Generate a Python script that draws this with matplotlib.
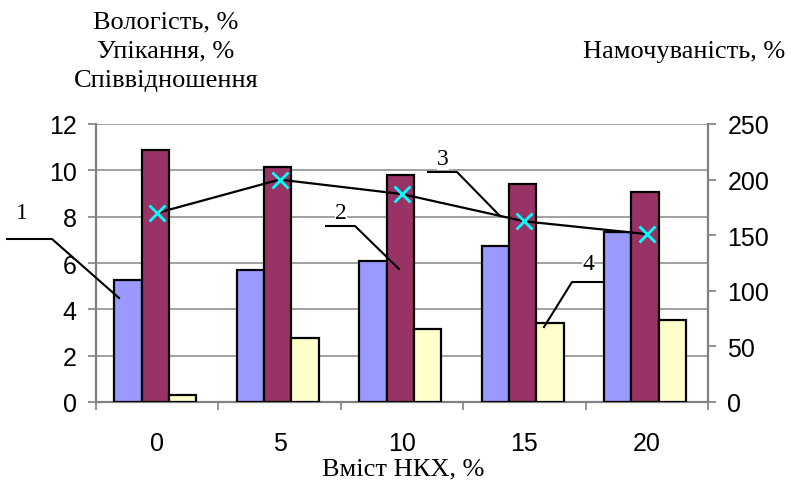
import numpy as np
import matplotlib.pyplot as plt
from matplotlib.lines import Line2D

# data
categories = ['0', '5', '10', '15', '20']
moisture = [5.25, 5.7, 6.07, 6.72, 7.35]          # 1 - blue
caking = [10.88, 10.16, 9.81, 9.41, 9.06]          # 2 - purple
ratio = [0.32, 2.78, 3.15, 3.42, 3.54]             # 4 - yellow
wettability = [170, 200, 187, 162.5, 151]          # 3 - line, right axis

W, H = 791, 489
fig = plt.figure(figsize=(W / 100, H / 100), dpi=100)
ax = fig.add_axes([96 / W, 1 - 403 / H, (708 - 96) / W, (403 - 125) / H])

x = np.arange(len(categories))
bw = 0.223
edge = dict(edgecolor='black', linewidth=1.6, zorder=3)
ax.bar(x - bw - 0.015, moisture, bw, color='#9999FF', **edge)
ax.bar(x - 0.015, caking, bw, color='#993366', **edge)
ax.bar(x + bw - 0.015, ratio, bw, color='#FFFFCC', **edge)

ax.set_xlim(-0.5, len(categories) - 0.5)
ax.set_ylim(0, 12)
ax.set_yticks(range(0, 13, 2))
ax.yaxis.grid(True, color='#9a9a9a', linewidth=1.3, zorder=0)
ax.set_axisbelow(True)
ax.set_xticks(np.arange(-0.5, len(categories), 1.0))
ax.set_xticklabels([])
ax.set_xticks(x, minor=True)
ax.set_xticklabels(categories, minor=True)
ax.tick_params(axis='x', which='major', length=6, color='#808080', width=1.2)
ax.tick_params(axis='x', which='minor', length=0, pad=21, labelsize=18)
ax.tick_params(axis='y', length=6, color='#808080', width=1.2, labelsize=18, pad=8)
for s in ['top', 'right']:
    ax.spines[s].set_visible(False)
for s in ['left', 'bottom']:
    ax.spines[s].set_color('#808080')
    ax.spines[s].set_linewidth(1.6)

ax2 = ax.twinx()
ax2.plot(x, wettability, color='black', linewidth=1.6, marker='x',
         markersize=12, markeredgecolor='#00FFFF', markeredgewidth=2, zorder=5)
ax2.set_ylim(0, 250)
ax2.set_yticks(range(0, 251, 50))
ax2.tick_params(axis='y', length=6, color='#808080', width=1.2, labelsize=18, pad=8)
for s in ['top', 'left', 'bottom']:
    ax2.spines[s].set_visible(False)
ax2.spines['right'].set_color('#808080')
ax2.spines['right'].set_linewidth(1.6)

for a in (ax, ax2):
    for lab in a.get_xticklabels(which='both') + a.get_yticklabels():
        lab.set_family('Liberation Sans')

serif = 'Liberation Serif'


def px(xp, yp):
    return xp / W, 1 - yp / H


# axis titles
fig.text(*px(166, 22), 'Вологість, %', ha='center', va='center', family=serif, fontsize=19)
fig.text(*px(166, 51), 'Упікання, %', ha='center', va='center', family=serif, fontsize=19)
fig.text(*px(166, 81), 'Співвідношення', ha='center', va='center', family=serif, fontsize=19)
fig.text(*px(684, 52), 'Намочуваність, %', ha='center', va='center', family=serif, fontsize=19)
fig.text(*px(403, 469), 'Вміст НКХ, %', ha='center', va='center', family=serif, fontsize=19)

# numbered leader lines
leaders = [
    ('1', (22, 214), [(7, 240), (52, 240), (119, 299)]),
    ('2', (341, 214), [(326, 227), (355, 227), (399, 270)]),
    ('3', (443, 160), [(428, 173), (457, 173), (500, 217)]),
    ('4', (588, 264), [(602, 283), (572, 283), (544, 328)]),
]
for num, (tx, ty), pts in leaders:
    fig.text(*px(tx, ty), num, ha='center', va='center', family=serif, fontsize=17,
             zorder=10, bbox=dict(facecolor='white', edgecolor='none', pad=0))
    xs = [p[0] / W for p in pts]
    ys = [1 - p[1] / H for p in pts]
    fig.add_artist(Line2D(xs, ys, color='black', linewidth=1.5, zorder=10))

fig.savefig('out.png', dpi=100)
